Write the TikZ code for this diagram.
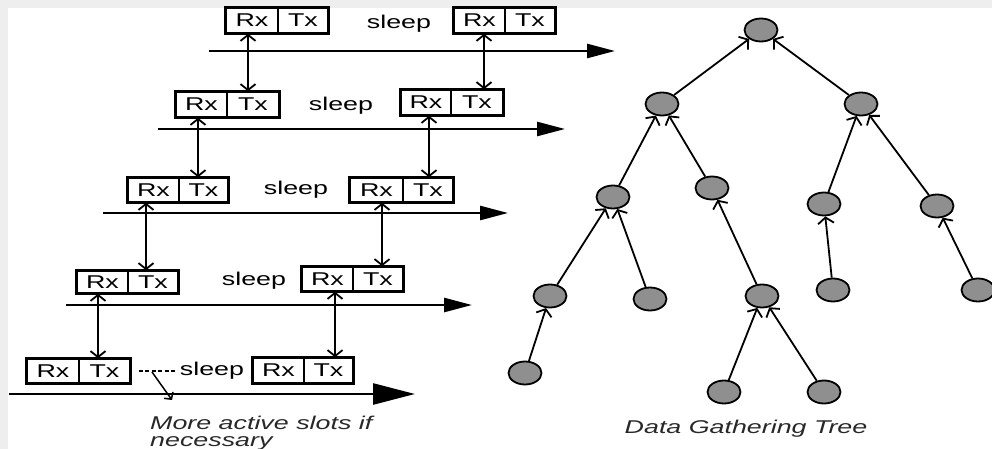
\documentclass[tikz,border=0pt]{standalone}
\usepackage{fontspec}
\setmainfont{Liberation Sans}
\usetikzlibrary{arrows.meta,shapes.geometric,calc}

\definecolor{framegray}{RGB}{238,238,238}
\definecolor{nodegray}{RGB}{143,143,143}
\definecolor{inkgray}{RGB}{40,40,40}

% horizontally widened text
\newcommand\wide[1]{\scalebox{1.45}[1]{#1}}

% one active slot: an Rx cell and a Tx cell in a heavy frame
% #1 name, #2 left x, #3 divider x, #4 right x, #5 top y, #6 bottom y
\newcommand\rxtxslot[6]{%
  \node[cellbox, minimum width={(#3-#2)*1pt}, minimum height={(#6-#5)*1pt}]
    (#1rx) at ({(#2+#3)/2},{(#5+#6)/2}) {\wide{Rx}};
  \node[cellbox, minimum width={(#4-#3)*1pt}, minimum height={(#6-#5)*1pt}]
    (#1tx) at ({(#3+#4)/2},{(#5+#6)/2}) {\wide{Tx}};
  \draw[line width=2.5pt] (#1rx.north west) rectangle (#1tx.south east);
}

\begin{document}
\begin{tikzpicture}[x=1pt,y=-1pt,
  cellbox/.style={draw, line width=1.5pt, inner sep=0pt, font=\fontsize{18.5}{18.5}\selectfont},
  sleeptext/.style={inner sep=0pt, font=\fontsize{18.5}{18.5}\selectfont},
  timeline/.style={line width=2.6pt, -{Triangle[length=28pt,width=14pt]}},
  lasttimeline/.style={line width=2.6pt, -{Triangle[length=42pt,width=21pt]}},
  vlink/.style={line width=1.8pt, {Straight Barb[length=6pt,width=15pt]}-{Straight Barb[length=6pt,width=15pt]}},
  treenode/.style={ellipse, draw, line width=1.8pt, fill=nodegray, minimum width=33pt, minimum height=23pt, inner sep=0pt},
  treelink/.style={line width=1.8pt, -{Straight Barb[length=6pt,width=16pt]}},
  caption/.style={inner sep=0pt, text=inkgray, font=\fontsize{18.5}{18.5}\selectfont\itshape}]

\useasboundingbox (0,0) rectangle (992,449);
\fill[framegray] (0,0) rectangle (992,449);
\fill[white] (8,8) rectangle (992,449);

% ---------- slot schedule ----------
\rxtxslot{aa}{226}{278}{328}{8}{33}
\rxtxslot{ab}{454}{505}{555}{8}{33}
\node[sleeptext] (sleepa) at (399,24) {\wide{sleep}};

\rxtxslot{ba}{176}{227}{279}{92}{117}
\rxtxslot{bb}{401}{451}{503}{90}{115}
\node[sleeptext] (sleepb) at (341,106) {\wide{sleep}};

\rxtxslot{ca}{128}{179}{228}{178}{202}
\rxtxslot{cb}{350}{403}{453}{178}{202}
\node[sleeptext] (sleepc) at (296,190) {\wide{sleep}};

\rxtxslot{da}{77}{128}{178}{271}{293}
\rxtxslot{db}{302}{353}{403}{267}{291}
\node[sleeptext] (sleepd) at (254,281) {\wide{sleep}};

\rxtxslot{ea}{27}{79}{130}{359}{383}
\rxtxslot{eb}{253}{304}{353}{358}{383}
\node[sleeptext] (sleepe) at (212,371) {\wide{sleep}};

% time axes
\coordinate (tas) at (209,51);  \coordinate (tae) at (615,51);
\coordinate (tbs) at (158,129); \coordinate (tbe) at (565,129);
\coordinate (tcs) at (103,213); \coordinate (tce) at (508,213);
\coordinate (tds) at (66,305);  \coordinate (tde) at (472,305);
\coordinate (tes) at (9,394);   \coordinate (tee) at (415,394);
\draw[timeline] (tas) -- (tae);
\draw[timeline] (tbs) -- (tbe);
\draw[timeline] (tcs) -- (tce);
\draw[timeline] (tds) -- (tde);
\draw[lasttimeline] (tes) -- (tee);

% exchanges between neighbouring levels
\draw[vlink] ([xshift=-4pt]aarx.south) -- ([xshift=-4pt]aarx.south |- batx.north);
\draw[vlink] ([xshift=4.5pt]abrx.south) -- ([xshift=4.5pt]abrx.south |- bbtx.north);
\draw[vlink] ([xshift=-3.5pt]barx.south) -- ([xshift=-3.5pt]barx.south |- catx.north);
\draw[vlink] ([xshift=3pt]bbrx.south) -- ([xshift=3pt]bbrx.south |- cbtx.north);
\draw[vlink] ([xshift=-7.5pt]carx.south) -- ([xshift=-7.5pt]carx.south |- datx.north);
\draw[vlink] ([xshift=5.5pt]cbrx.south) -- ([xshift=5.5pt]cbrx.south |- dbtx.north);
\draw[vlink] ([xshift=-4.5pt]darx.south) -- ([xshift=-4.5pt]darx.south |- eatx.north);
\draw[vlink] ([xshift=7.5pt]dbrx.south) -- ([xshift=7.5pt]dbrx.south |- ebtx.north);

% extra slots note
\draw[line width=1.8pt, dash pattern=on 4pt off 2.5pt] ([xshift=8pt]eatx.east) -- ([xshift=45pt]eatx.east);
\coordinate (notefrom) at (152,372);
\coordinate (noteto) at (172,400);
\draw[line width=1.5pt, -{Straight Barb[length=5pt,width=11pt]}] (notefrom) -- (noteto);
\node[caption, anchor=base west] (notea) at (150,429) {\wide{More active slots if}};
\node[caption, anchor=base west] (noteb) at (150,446) {\wide{necessary}};

% ---------- data gathering tree ----------
\node[treenode] (r) at (761,30) {};
\node[treenode] (a) at (662,104) {};
\node[treenode] (b) at (861,104) {};
\node[treenode] (c) at (613,197) {};
\node[treenode] (d) at (712,188) {};
\node[treenode] (e) at (824,204) {};
\node[treenode] (f) at (937,206) {};
\node[treenode] (g) at (550,296) {};
\node[treenode] (h) at (650,299) {};
\node[treenode] (i) at (762,296) {};
\node[treenode] (j) at (833,290) {};
\node[treenode] (k) at (978,290) {};
\node[treenode] (l) at (525,373) {};
\node[treenode] (m) at (724,392) {};
\node[treenode] (n) at (824,392) {};

\foreach \child/\parent in {a/r,b/r,c/a,d/a,e/b,f/b,g/c,h/c,i/d,j/e,k/f,l/g,m/i,n/i}
  \draw[treelink] (\child) -- (\parent);

\node[caption, anchor=base] (treecap) at (746,433) {\wide{Data Gathering Tree}};
\end{tikzpicture}
\end{document}
